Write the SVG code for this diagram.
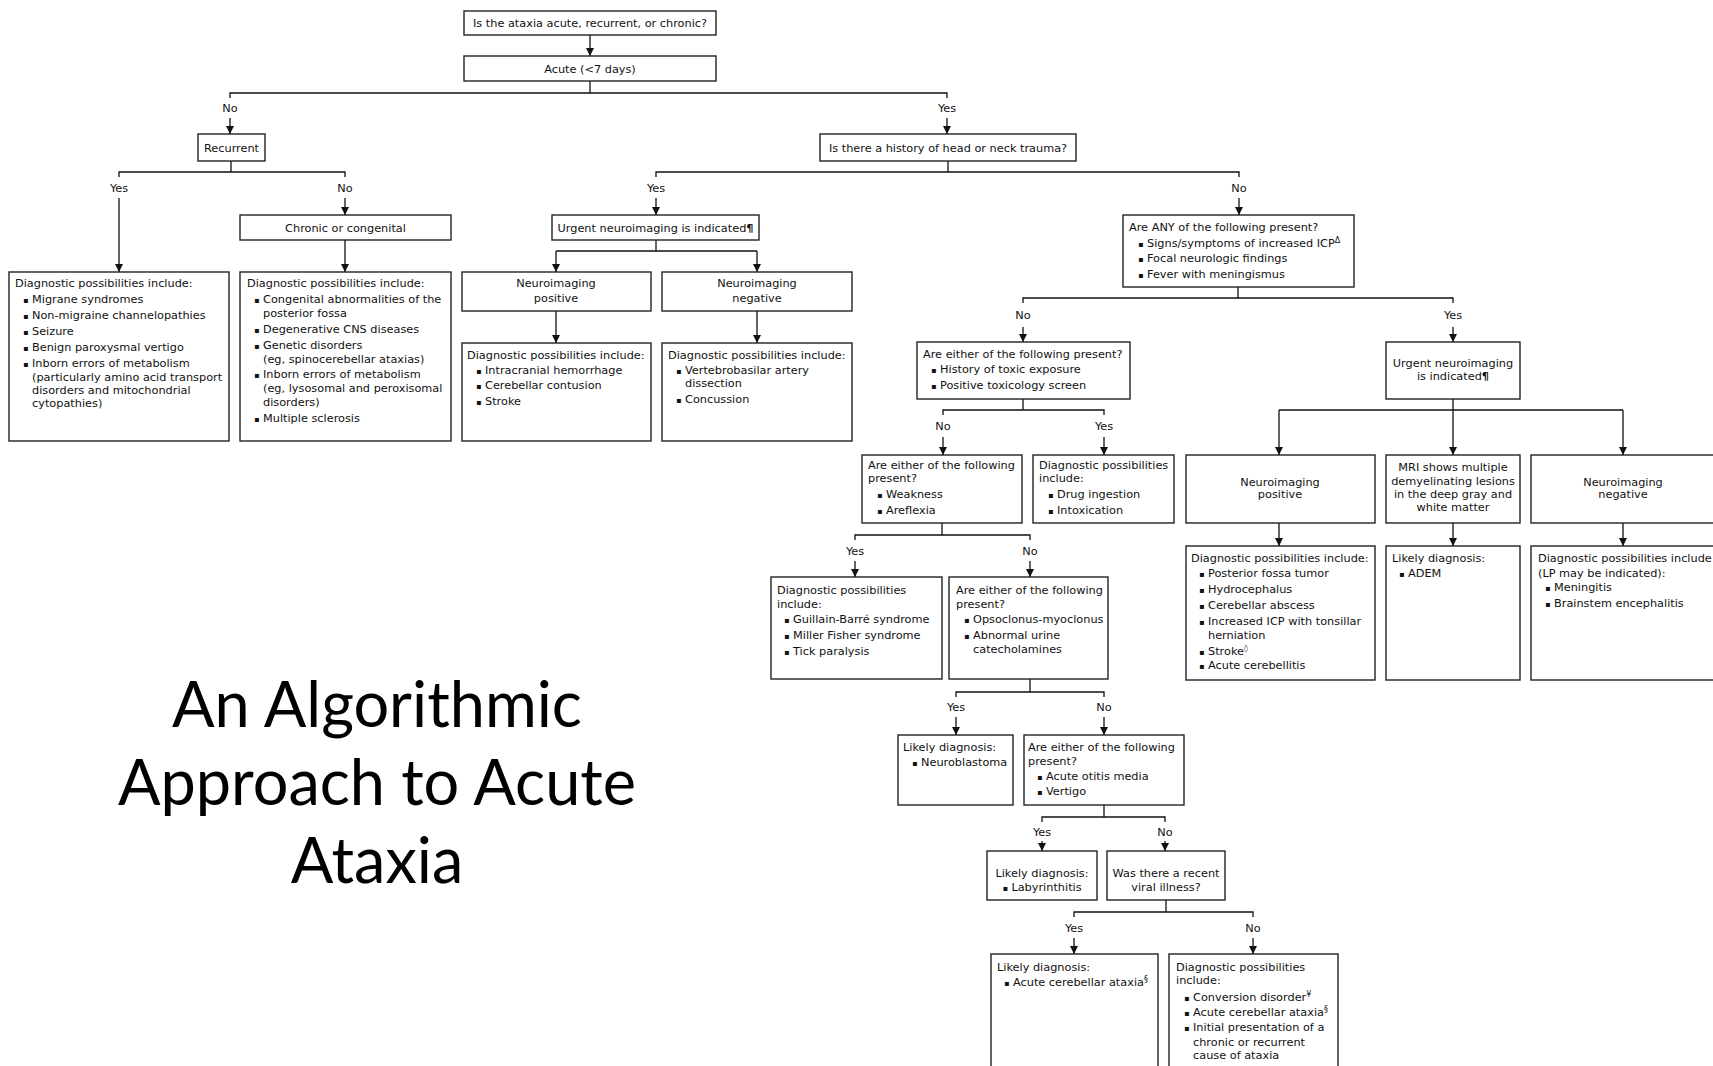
<svg xmlns="http://www.w3.org/2000/svg" width="1713" height="1066" viewBox="0 0 1713 1066">
<defs>
<marker id="ah" viewBox="0 0 10 10" refX="10" refY="5" markerWidth="9" markerHeight="8" markerUnits="userSpaceOnUse" orient="auto"><path d="M0,0 L10,5 L0,10 z" fill="#111"/></marker>
<style>
.box{fill:#fff;stroke:#222;stroke-width:1.4}
text{font-family:"DejaVu Sans",Verdana,sans-serif;font-size:11.3px;fill:#111}
.c{text-anchor:middle}
.ln{fill:none;stroke:#111;stroke-width:1.3}
.ar{fill:none;stroke:#111;stroke-width:1.3;marker-end:url(#ah)}
.sup{font-size:8px}
.bl{font-size:8px}
.b{font-weight:bold}
.title{font-family:Lato,"Open Sans",sans-serif;font-size:63px;fill:#000;text-anchor:middle}
</style>
</defs>
<rect width="1713" height="1066" fill="#fff"/>

<g id="connectors">
<path class="ar" d="M590,35 V56"/>
<path class="ln" d="M230,98 V93 H947 V98 M590,81 V93"/>
<path class="ar" d="M230,118 V134"/><path class="ar" d="M947,118 V134"/>
<path class="ln" d="M119,177 V172 H345 V177 M231,161 V172"/>
<path class="ar" d="M119,198 V272"/><path class="ar" d="M345,198 V215"/>
<path class="ln" d="M656,177 V172 H1239 V177 M948,161 V172"/>
<path class="ar" d="M656,198 V215"/><path class="ar" d="M1239,198 V215"/>
<path class="ar" d="M345,240 V272"/>
<path class="ln" d="M656,240 V251 M556,251 H757"/>
<path class="ar" d="M556,251 V272"/><path class="ar" d="M757,251 V272"/>
<path class="ar" d="M556,311 V343"/><path class="ar" d="M757,311 V343"/>
<path class="ln" d="M1023,303 V298 H1453 V303 M1238,287 V298"/>
<path class="ar" d="M1023,327 V342"/><path class="ar" d="M1453,327 V342"/>
<path class="ln" d="M943,415 V410 H1104 V415 M1023,399 V410"/>
<path class="ar" d="M943,437 V455"/><path class="ar" d="M1104,437 V455"/>
<path class="ln" d="M1279,410 H1623 M1453,399 V410"/>
<path class="ar" d="M1279,410 V455"/><path class="ar" d="M1453,410 V455"/><path class="ar" d="M1623,410 V455"/>
<path class="ar" d="M1279,523 V546"/><path class="ar" d="M1453,523 V546"/><path class="ar" d="M1623,523 V546"/>
<path class="ln" d="M855,540 V535 H1030 V540 M942,523 V535"/>
<path class="ar" d="M855,561 V577"/><path class="ar" d="M1030,561 V577"/>
<path class="ln" d="M956,697 V692 H1104 V697 M1030,679 V692"/>
<path class="ar" d="M956,717 V735"/><path class="ar" d="M1104,717 V735"/>
<path class="ln" d="M1042,822 V817 H1165 V822 M1104,805 V817"/>
<path class="ar" d="M1042,841 V851"/><path class="ar" d="M1165,841 V851"/>
<path class="ln" d="M1074,917 V912 H1253 V917 M1166,900 V912"/>
<path class="ar" d="M1074,938 V954"/><path class="ar" d="M1253,938 V954"/>
<g id="labels">
<text class="c" x="230" y="112">No</text><text class="c" x="947" y="112">Yes</text>
<text class="c" x="119" y="192">Yes</text><text class="c" x="345" y="192">No</text>
<text class="c" x="656" y="192">Yes</text><text class="c" x="1239" y="192">No</text>
<text class="c" x="1023" y="319">No</text><text class="c" x="1453" y="319">Yes</text>
<text class="c" x="943" y="430">No</text><text class="c" x="1104" y="430">Yes</text>
<text class="c" x="855" y="555">Yes</text><text class="c" x="1030" y="555">No</text>
<text class="c" x="956" y="711">Yes</text><text class="c" x="1104" y="711">No</text>
<text class="c" x="1042" y="836">Yes</text><text class="c" x="1165" y="836">No</text>
<text class="c" x="1074" y="932">Yes</text><text class="c" x="1253" y="932">No</text>
</g>
</g>

<g id="n1"><rect class="box" x="464" y="11" width="252" height="24"/><text class="c" x="590" y="27">Is the ataxia acute, recurrent, or chronic?</text></g>
<g id="n2"><rect class="box" x="464" y="56" width="252" height="25"/><text class="c" x="590" y="73">Acute (&lt;7 days)</text></g>
<g id="n3"><rect class="box" x="198" y="134" width="67" height="27"/><text class="c" x="231.5" y="152">Recurrent</text></g>
<g id="n4"><rect class="box" x="820" y="134" width="256" height="27"/><text class="c" x="948" y="152">Is there a history of head or neck trauma?</text></g>
<g id="n5"><rect class="box" x="240" y="215" width="211" height="25"/><text class="c" x="345.5" y="232">Chronic or congenital</text></g>

<g id="n6"><rect class="box" x="9" y="272" width="220" height="169"/>
<text x="15" y="287">Diagnostic possibilities include:</text>
<text y="303"><tspan class="bl" x="23">▪</tspan><tspan x="32">Migrane syndromes</tspan></text>
<text y="319"><tspan class="bl" x="23">▪</tspan><tspan x="32">Non-migraine channelopathies</tspan></text>
<text y="335"><tspan class="bl" x="23">▪</tspan><tspan x="32">Seizure</tspan></text>
<text y="351"><tspan class="bl" x="23">▪</tspan><tspan x="32">Benign paroxysmal vertigo</tspan></text>
<text y="367"><tspan class="bl" x="23">▪</tspan><tspan x="32">Inborn errors of metabolism</tspan></text>
<text x="32" y="381">(particularly amino acid transport</text>
<text x="32" y="394">disorders and mitochondrial</text>
<text x="32" y="407">cytopathies)</text>
</g>

<g id="n7"><rect class="box" x="240" y="272" width="211" height="169"/>
<text x="247" y="287">Diagnostic possibilities include:</text>
<text y="303"><tspan class="bl" x="254">▪</tspan><tspan x="263">Congenital abnormalities of the</tspan></text>
<text x="263" y="317">posterior fossa</text>
<text y="333"><tspan class="bl" x="254">▪</tspan><tspan x="263">Degenerative CNS diseases</tspan></text>
<text y="349"><tspan class="bl" x="254">▪</tspan><tspan x="263">Genetic disorders</tspan></text>
<text x="263" y="363">(eg, spinocerebellar ataxias)</text>
<text y="378"><tspan class="bl" x="254">▪</tspan><tspan x="263">Inborn errors of metabolism</tspan></text>
<text x="263" y="392">(eg, lysosomal and peroxisomal</text>
<text x="263" y="406">disorders)</text>
<text y="422"><tspan class="bl" x="254">▪</tspan><tspan x="263">Multiple sclerosis</tspan></text>
</g>

<g id="n8"><rect class="box" x="552" y="215" width="207" height="25"/><text class="c" x="655.5" y="232">Urgent neuroimaging is indicated<tspan class="b">¶</tspan></text></g>
<g id="n9"><rect class="box" x="462" y="272" width="189" height="39"/><text class="c" x="556" y="287">Neuroimaging</text><text class="c" x="556" y="302">positive</text></g>
<g id="n10"><rect class="box" x="662" y="272" width="190" height="39"/><text class="c" x="757" y="287">Neuroimaging</text><text class="c" x="757" y="302">negative</text></g>

<g id="n11"><rect class="box" x="462" y="343" width="189" height="98"/>
<text x="467" y="359">Diagnostic possibilities include:</text>
<text y="374"><tspan class="bl" x="476">▪</tspan><tspan x="485">Intracranial hemorrhage</tspan></text>
<text y="389"><tspan class="bl" x="476">▪</tspan><tspan x="485">Cerebellar contusion</tspan></text>
<text y="405"><tspan class="bl" x="476">▪</tspan><tspan x="485">Stroke</tspan></text>
</g>
<g id="n12"><rect class="box" x="662" y="343" width="190" height="98"/>
<text x="668" y="359">Diagnostic possibilities include:</text>
<text y="374"><tspan class="bl" x="676">▪</tspan><tspan x="685">Vertebrobasilar artery</tspan></text>
<text x="685" y="387">dissection</text>
<text y="403"><tspan class="bl" x="676">▪</tspan><tspan x="685">Concussion</tspan></text>
</g>

<g id="n13"><rect class="box" x="1123" y="215" width="231" height="72"/>
<text x="1129" y="231">Are ANY of the following present?</text>
<text y="247"><tspan class="bl" x="1138">▪</tspan><tspan x="1147">Signs/symptoms of increased ICP<tspan class="sup" dy="-4">Δ</tspan></tspan></text>
<text y="262"><tspan class="bl" x="1138">▪</tspan><tspan x="1147">Focal neurologic findings</tspan></text>
<text y="278"><tspan class="bl" x="1138">▪</tspan><tspan x="1147">Fever with meningismus</tspan></text>
</g>

<g id="n14"><rect class="box" x="917" y="342" width="213" height="57"/>
<text x="923" y="358">Are either of the following present?</text>
<text y="373"><tspan class="bl" x="931">▪</tspan><tspan x="940">History of toxic exposure</tspan></text>
<text y="389"><tspan class="bl" x="931">▪</tspan><tspan x="940">Positive toxicology screen</tspan></text>
</g>
<g id="n15"><rect class="box" x="1386" y="342" width="134" height="57"/>
<text class="c" x="1453" y="367">Urgent neuroimaging</text>
<text class="c" x="1453" y="380">is indicated<tspan class="b">¶</tspan></text>
</g>

<g id="n16"><rect class="box" x="862" y="455" width="160" height="68"/>
<text x="868" y="469">Are either of the following</text>
<text x="868" y="482">present?</text>
<text y="498"><tspan class="bl" x="877">▪</tspan><tspan x="886">Weakness</tspan></text>
<text y="514"><tspan class="bl" x="877">▪</tspan><tspan x="886">Areflexia</tspan></text>
</g>
<g id="n17"><rect class="box" x="1033" y="455" width="141" height="68"/>
<text x="1039" y="469">Diagnostic possibilities</text>
<text x="1039" y="482">include:</text>
<text y="498"><tspan class="bl" x="1048">▪</tspan><tspan x="1057">Drug ingestion</tspan></text>
<text y="514"><tspan class="bl" x="1048">▪</tspan><tspan x="1057">Intoxication</tspan></text>
</g>
<g id="n18"><rect class="box" x="1186" y="455" width="189" height="68"/><text class="c" x="1280" y="486">Neuroimaging</text><text class="c" x="1280" y="498">positive</text></g>
<g id="n19"><rect class="box" x="1386" y="455" width="134" height="68"/>
<text class="c" x="1453" y="471">MRI shows multiple</text>
<text class="c" x="1453" y="485">demyelinating lesions</text>
<text class="c" x="1453" y="498">in the deep gray and</text>
<text class="c" x="1453" y="511">white matter</text>
</g>
<g id="n20"><rect class="box" x="1531" y="455" width="185" height="68"/><text class="c" x="1623" y="486">Neuroimaging</text><text class="c" x="1623" y="498">negative</text></g>

<g id="n21"><rect class="box" x="1186" y="546" width="189" height="134"/>
<text x="1191" y="562">Diagnostic possibilities include:</text>
<text y="577"><tspan class="bl" x="1199">▪</tspan><tspan x="1208">Posterior fossa tumor</tspan></text>
<text y="593"><tspan class="bl" x="1199">▪</tspan><tspan x="1208">Hydrocephalus</tspan></text>
<text y="609"><tspan class="bl" x="1199">▪</tspan><tspan x="1208">Cerebellar abscess</tspan></text>
<text y="625"><tspan class="bl" x="1199">▪</tspan><tspan x="1208">Increased ICP with tonsillar</tspan></text>
<text x="1208" y="639">herniation</text>
<text y="655"><tspan class="bl" x="1199">▪</tspan><tspan x="1208">Stroke<tspan class="sup" dy="-4">◊</tspan></tspan></text>
<text y="669"><tspan class="bl" x="1199">▪</tspan><tspan x="1208">Acute cerebellitis</tspan></text>
</g>
<g id="n22"><rect class="box" x="1386" y="546" width="134" height="134"/>
<text x="1392" y="562">Likely diagnosis:</text>
<text y="577"><tspan class="bl" x="1399">▪</tspan><tspan x="1408">ADEM</tspan></text>
</g>
<g id="n23"><rect class="box" x="1531" y="546" width="185" height="134"/>
<text x="1538" y="562">Diagnostic possibilities include</text>
<text x="1538" y="577">(LP may be indicated):</text>
<text y="591"><tspan class="bl" x="1545">▪</tspan><tspan x="1554">Meningitis</tspan></text>
<text y="607"><tspan class="bl" x="1545">▪</tspan><tspan x="1554">Brainstem encephalitis</tspan></text>
</g>

<g id="n24"><rect class="box" x="771" y="577" width="171" height="102"/>
<text x="777" y="594">Diagnostic possibilities</text>
<text x="777" y="608">include:</text>
<text y="623"><tspan class="bl" x="784">▪</tspan><tspan x="793">Guillain-Barré syndrome</tspan></text>
<text y="639"><tspan class="bl" x="784">▪</tspan><tspan x="793">Miller Fisher syndrome</tspan></text>
<text y="655"><tspan class="bl" x="784">▪</tspan><tspan x="793">Tick paralysis</tspan></text>
</g>
<g id="n25"><rect class="box" x="949" y="577" width="159" height="102"/>
<text x="956" y="594">Are either of the following</text>
<text x="956" y="608">present?</text>
<text y="623"><tspan class="bl" x="964">▪</tspan><tspan x="973">Opsoclonus-myoclonus</tspan></text>
<text y="639"><tspan class="bl" x="964">▪</tspan><tspan x="973">Abnormal urine</tspan></text>
<text x="973" y="653">catecholamines</text>
</g>

<g id="n26"><rect class="box" x="898" y="735" width="115" height="70"/>
<text x="903" y="751">Likely diagnosis:</text>
<text y="766"><tspan class="bl" x="912">▪</tspan><tspan x="921">Neuroblastoma</tspan></text>
</g>
<g id="n27"><rect class="box" x="1024" y="735" width="160" height="70"/>
<text x="1028" y="751">Are either of the following</text>
<text x="1028" y="765">present?</text>
<text y="780"><tspan class="bl" x="1037">▪</tspan><tspan x="1046">Acute otitis media</tspan></text>
<text y="795"><tspan class="bl" x="1037">▪</tspan><tspan x="1046">Vertigo</tspan></text>
</g>
<g id="n28"><rect class="box" x="987" y="851" width="110" height="49"/>
<text class="c" x="1042" y="877">Likely diagnosis:</text>
<text class="c" x="1042" y="891"><tspan class="bl">▪</tspan> Labyrinthitis</text>
</g>
<g id="n29"><rect class="box" x="1107" y="851" width="118" height="49"/>
<text class="c" x="1166" y="877">Was there a recent</text>
<text class="c" x="1166" y="891">viral illness?</text>
</g>
<g id="n30"><rect class="box" x="991" y="954" width="167" height="120"/>
<text x="997" y="971">Likely diagnosis:</text>
<text y="986"><tspan class="bl" x="1004">▪</tspan><tspan x="1013">Acute cerebellar ataxia<tspan class="sup" dy="-4">§</tspan></tspan></text>
</g>
<g id="n31"><rect class="box" x="1169" y="954" width="169" height="120"/>
<text x="1176" y="971">Diagnostic possibilities</text>
<text x="1176" y="984">include:</text>
<text y="1001"><tspan class="bl" x="1184">▪</tspan><tspan x="1193">Conversion disorder<tspan class="sup" dy="-4">¥</tspan></tspan></text>
<text y="1016"><tspan class="bl" x="1184">▪</tspan><tspan x="1193">Acute cerebellar ataxia<tspan class="sup" dy="-4">§</tspan></tspan></text>
<text y="1031"><tspan class="bl" x="1184">▪</tspan><tspan x="1193">Initial presentation of a</tspan></text>
<text x="1193" y="1046">chronic or recurrent</text>
<text x="1193" y="1059">cause of ataxia</text>
</g>

<g id="title">
<text class="title" x="377" y="727">An Algorithmic</text>
<text class="title" x="377" y="805">Approach to Acute</text>
<text class="title" x="377" y="883">Ataxia</text>
</g>
</svg>
